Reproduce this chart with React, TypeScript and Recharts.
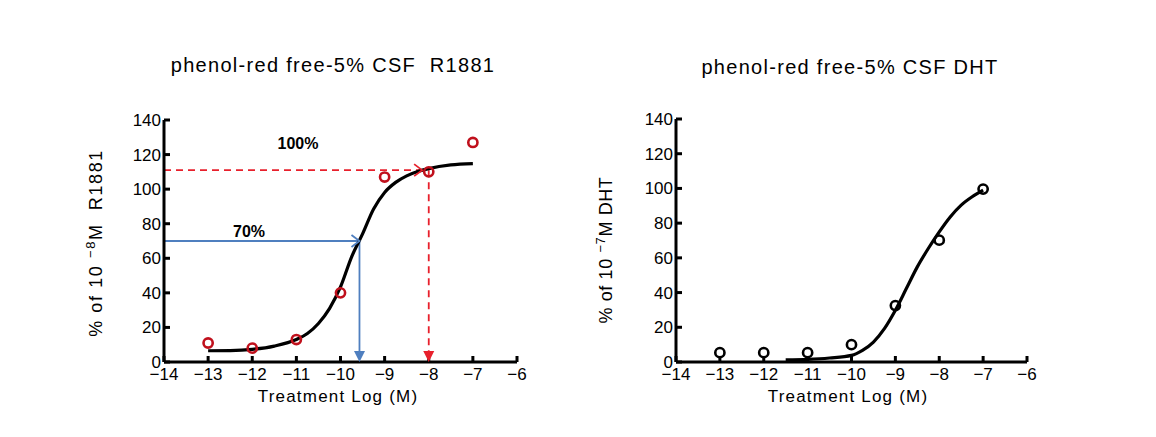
import React from 'react';
import { ComposedChart, Line, Scatter, XAxis, YAxis, ReferenceLine } from 'recharts';

const xTicks = [-14, -13, -12, -11, -10, -9, -8, -7, -6];
const yTicks = [0, 20, 40, 60, 80, 100, 120, 140];

const doseX = [-13, -12, -11, -10, -9, -8, -7];
const r1881Y = [11, 8, 13, 40, 107, 110, 127];
const dhtY = [5.4, 5.4, 5.4, 10, 32.5, 70.2, 99.6];

const r1881CurveX = [-13, -12.5, -12, -11.5, -11, -10.75, -10.5, -10.25, -10, -9.75, -9.5, -9.25, -9, -8.75, -8.5, -8.25, -8, -7.5, -7];
const r1881CurveY = [6.5, 6.6, 7.3, 9.2, 13, 16.5, 22.3, 30.9, 43.4, 60.7, 74.1, 88.5, 98.1, 103.9, 107.7, 110.2, 111.9, 114, 114.8];

const dhtCurveX = [-11.5, -11, -10.5, -10, -9.75, -9.5, -9.25, -9, -8.75, -8.5, -8.25, -8, -7.75, -7.5, -7.25, -7];
const dhtCurveY = [1.2, 1.5, 2.3, 3.8, 6.7, 11.5, 19.2, 29.8, 42.3, 54.8, 65.4, 75, 83.6, 90.4, 95.2, 99];

// annotation values
const ec100 = { x: -8, y: 111, arrowX: -8.15 };
const ec70 = { x: -9.57, y: 70 };

const zip = (xs: number[], ys: number[]) => xs.map((x, i) => ({ x, y: ys[i] }));

const FONT = '"Liberation Sans", Arial, sans-serif';
const RED_DOT = '#c0101c';
const RED_LINE = '#e8202c';
const BLUE = '#4f7fbf';

const fmt = (v: number) => (v < 0 ? '\u2212' + Math.abs(v) : String(v));

const ring = (color: string) => (p: any) => (
  <circle cx={p.cx} cy={p.cy} r={4.6} fill="none" stroke={color} strokeWidth={2.6} />
);
const downTri = (color: string) => (p: any) => (
  <polygon points={`${p.cx - 5.5},${p.cy - 11} ${p.cx + 5.5},${p.cy - 11} ${p.cx},${p.cy}`} fill={color} />
);
const openRight = (color: string) => (p: any) => (
  <polyline points={`${p.cx - 8},${p.cy - 6} ${p.cx},${p.cy} ${p.cx - 8},${p.cy + 6}`} fill="none" stroke={color} strokeWidth={1.8} />
);

const axisProps = {
  stroke: '#000',
  strokeWidth: 3,
  tick: { fill: '#000', fontSize: 17, fontFamily: FONT },
  tickSize: -6,
  tickLine: { stroke: '#000', strokeWidth: 3 },
};

function Panel(props: {
  left: number;
  margin: { top: number; right: number; bottom: number; left: number };
  children: React.ReactNode;
}) {
  return (
    <div style={{ position: 'absolute', left: props.left, top: 0 }}>
      <ComposedChart width={560} height={437} margin={props.margin}>
        <XAxis
          type="number"
          dataKey="x"
          domain={[-14, -6]}
          ticks={xTicks}
          tickFormatter={fmt}
          height={30}
          tickMargin={12}
          {...axisProps}
        />
        <YAxis
          type="number"
          dataKey="y"
          domain={[0, 140]}
          ticks={yTicks}
          width={60}
          tickMargin={9}
          {...axisProps}
        />
        {props.children}
      </ComposedChart>
    </div>
  );
}

const txt = (x: number, y: number, extra: React.CSSProperties = {}): React.CSSProperties => ({
  position: 'absolute',
  left: x,
  top: y,
  transform: 'translate(-50%, -50%)',
  whiteSpace: 'nowrap',
  fontFamily: FONT,
  color: '#000',
  ...extra,
});

export default function App() {
  return (
    <div style={{ position: 'absolute', left: 0, top: 0, width: 1156, height: 437, background: '#fff', overflow: 'hidden' }}>
      <Panel left={0} margin={{ top: 120, right: 43, bottom: 45, left: 104 }}>
        <ReferenceLine segment={[{ x: -14, y: ec100.y }, { x: ec100.arrowX, y: ec100.y }]} stroke={RED_LINE} strokeWidth={1.8} strokeDasharray="7 5" />
        <ReferenceLine segment={[{ x: ec100.x, y: ec100.y }, { x: ec100.x, y: 6 }]} stroke={RED_LINE} strokeWidth={1.8} strokeDasharray="7 5" />
        <ReferenceLine segment={[{ x: -14, y: ec70.y }, { x: ec70.x, y: ec70.y }]} stroke={BLUE} strokeWidth={1.8} />
        <ReferenceLine segment={[{ x: ec70.x, y: ec70.y }, { x: ec70.x, y: 6 }]} stroke={BLUE} strokeWidth={1.8} />
        <Line data={zip(r1881CurveX, r1881CurveY)} dataKey="y" type="monotone" stroke="#000" strokeWidth={3.2} dot={false} isAnimationActive={false} />
        <Scatter data={[{ x: ec70.x, y: 0 }]} dataKey="y" shape={downTri(BLUE)} isAnimationActive={false} />
        <Scatter data={[{ x: ec100.x, y: 0 }]} dataKey="y" shape={downTri(RED_LINE)} isAnimationActive={false} />
        <Scatter data={[{ x: ec70.x, y: ec70.y }]} dataKey="y" shape={openRight(BLUE)} isAnimationActive={false} />
        <Scatter data={[{ x: ec100.arrowX, y: ec100.y }]} dataKey="y" shape={openRight(RED_LINE)} isAnimationActive={false} />
        <Scatter data={zip(doseX, r1881Y)} dataKey="y" shape={ring(RED_DOT)} isAnimationActive={false} />
      </Panel>
      <Panel left={560} margin={{ top: 119, right: 93, bottom: 45, left: 56 }}>
        <Line data={zip(dhtCurveX, dhtCurveY)} dataKey="y" type="monotone" stroke="#000" strokeWidth={3.2} dot={false} isAnimationActive={false} />
        <Scatter data={zip(doseX, dhtY)} dataKey="y" shape={ring('#000')} isAnimationActive={false} />
      </Panel>

      <div style={txt(333, 65, { fontSize: 20, letterSpacing: 1.3 })}>phenol-red free-5% CSF&nbsp;&nbsp;R1881</div>
      <div style={txt(850, 67, { fontSize: 20, letterSpacing: 1.3 })}>phenol-red free-5% CSF DHT</div>

      <div style={txt(95, 243, { fontSize: 18, letterSpacing: 1.6, transform: 'translate(-50%, -50%) rotate(-90deg)' })}>
        % of 10 <span style={{ fontSize: 13, verticalAlign: 'super' }}>{'\u2212'}8</span>M&nbsp;&nbsp;R1881
      </div>
      <div style={txt(605, 250, { fontSize: 18, letterSpacing: 0.6, transform: 'translate(-50%, -50%) rotate(-90deg)' })}>
        % of 10 <span style={{ fontSize: 13, verticalAlign: 'super' }}>{'\u2212'}7</span>M DHT
      </div>

      <div style={txt(338, 397, { fontSize: 17, letterSpacing: 1.2 })}>Treatment Log (M)</div>
      <div style={txt(848, 397, { fontSize: 17, letterSpacing: 1.2 })}>Treatment Log (M)</div>

      <div style={txt(298, 144, { fontSize: 16, fontWeight: 'bold' })}>100%</div>
      <div style={txt(249, 232, { fontSize: 16, fontWeight: 'bold' })}>70%</div>
    </div>
  );
}
